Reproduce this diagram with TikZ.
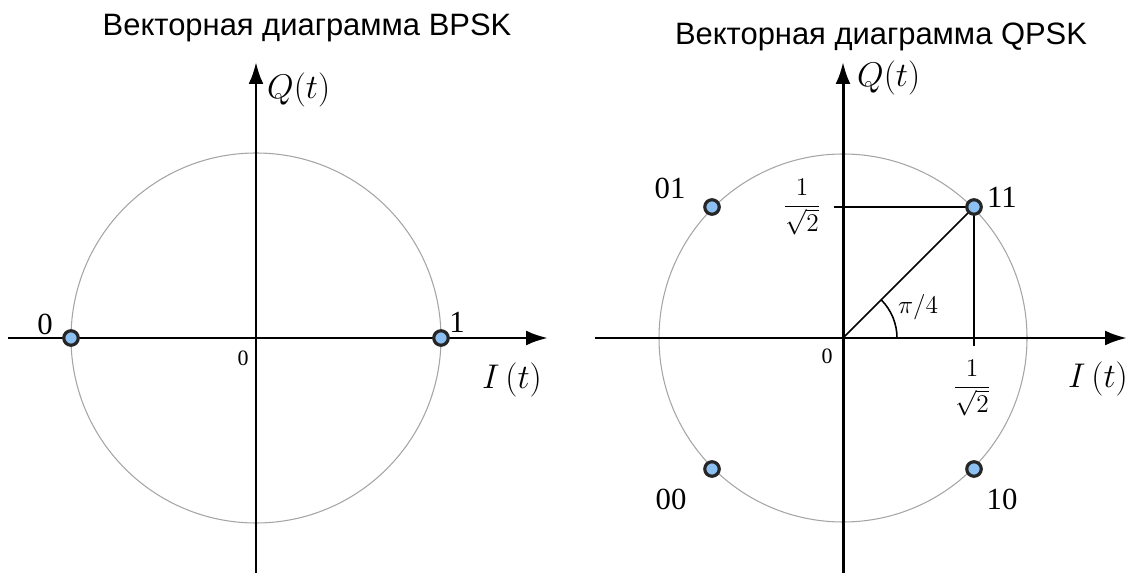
\documentclass[tikz,border=0pt]{standalone}
\usepackage{fix-cm}
\usepackage{fontspec}
\newfontfamily\titlefont{Liberation Sans}
\newfontfamily\digfont{Liberation Serif}
\usetikzlibrary{arrows.meta}
\definecolor{dotblue}{RGB}{140,192,242}
\definecolor{circgray}{RGB}{165,165,165}
\begin{document}
\begin{tikzpicture}[x=0.02cm,y=-0.02cm,
  axis/.style={line width=1.7pt,-{Latex[length=0.44cm,width=0.3cm]}},
  unitcirc/.style={draw=circgray,line width=0.6pt},
  sig/.style={circle,draw=black!85,line width=1.8pt,fill=dotblue,minimum size=0.29cm,inner sep=0pt},
  proj/.style={line width=0.9pt},
  ttl/.style={font=\titlefont\fontsize{17.6}{20}\selectfont},
  lbl/.style={font=\digfont\fontsize{17.5}{19}\selectfont},
  axlbl/.style={font=\fontsize{19.5}{21}\selectfont},
  orig/.style={font=\digfont\fontsize{12.5}{14}\selectfont},
  frc/.style={font=\fontsize{14.5}{16}\selectfont}]
\useasboundingbox (0,0) rectangle (1128,573);
% BPSK
\coordinate (L0) at (256,338);
\coordinate (Lw) at (8,338);
\coordinate (Le) at (548,338);
\coordinate (Ls) at (256,573);
\coordinate (Ln) at (256,62);
\draw[unitcirc] (L0) circle[radius=185];
\draw[axis] (Lw) -- (Le);
\draw[axis] (Ls) -- (Ln);
\node (bz) at (71,338) [sig] {};
\node (bo) at (441,338) [sig] {};
\node (bttl) at (307,28) [ttl] {Векторная диаграмма BPSK};
\node (bq) at (261,90) [axlbl,anchor=west] {$Q(t)$};
\node (bi) at (512,380) [axlbl] {$I\,(t)$};
\node (bzl) at (45,324) [lbl] {0};
\node (bol) at (457,322) [lbl] {1};
\node (borg) at (243,358) [orig] {0};
% QPSK
\coordinate (R0) at (843,338);
\coordinate (Rw) at (595,338);
\coordinate (Re) at (1127,338);
\coordinate (Rs) at (843,573);
\coordinate (Rn) at (843,62);
\coordinate (ty) at (834,207);
\coordinate (tx) at (974,346);
\draw[unitcirc] (R0) circle[radius=184];
\draw[axis] (Rw) -- (Re);
\draw[axis] (Rs) -- (Rn);
\draw[proj] (R0) -- (974,207);
\draw[proj] (ty) -- (974,207) -- (tx);
\draw[proj] (897,338) arc[start angle=0,end angle=-45,radius=54];
\node (q11) at (974,207) [sig] {};
\node (q01) at (712,207) [sig] {};
\node (q00) at (712,469) [sig] {};
\node (q10) at (974,469) [sig] {};
\node (qttl) at (881,37) [ttl] {Векторная диаграмма QPSK};
\node (qq) at (851,78) [axlbl,anchor=west] {$Q(t)$};
\node (qi) at (1098,379) [axlbl] {$I\,(t)$};
\node (l11) at (1002,197) [lbl] {11};
\node (l01) at (670,188) [lbl] {01};
\node (l00) at (671,499) [lbl] {00};
\node (l10) at (1002,499) [lbl] {10};
\node (qorg) at (827,356) [orig] {0};
\node (fy) at (802,207) [frc] {$\displaystyle\frac{1}{\sqrt{2}}$};
\node (fx) at (972,388) [frc] {$\displaystyle\frac{1}{\sqrt{2}}$};
\node (ang) at (918,307) [frc] {$\pi/4$};
\end{tikzpicture}
\end{document}
